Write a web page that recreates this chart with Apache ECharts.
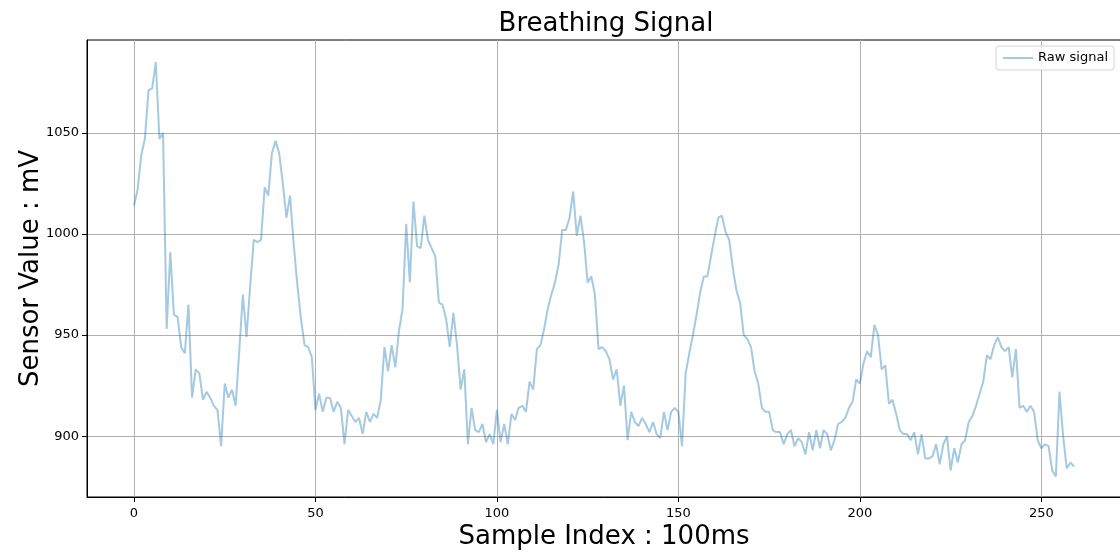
<!DOCTYPE html>
<html>
<head>
<meta charset="utf-8">
<title>Breathing Signal</title>
<script src="https://cdn.jsdelivr.net/npm/echarts@6/dist/echarts.min.js"></script>
<style>
  html, body { margin: 0; padding: 0; background: #fff; }
  #chart { width: 1120px; height: 552px; }
</style>
</head>
<body>
<div id="chart"></div>
<script>
// raw sensor readings (mV), one every 100ms
const rawSignal = [
  1014, 1022, 1039, 1047, 1071, 1072, 1085, 1047, 1050, 953, 991, 960, 959, 944, 941, 965, 919, 933, 931, 918,
  922, 919, 915, 913, 895, 926, 919, 923, 915, 942, 970, 949, 974, 997, 996, 997, 1023, 1019, 1040, 1046,
  1040, 1025, 1008, 1019, 995, 975, 958, 945, 944, 939, 913, 921, 912, 919, 919, 912, 917, 914, 896, 913,
  910, 907, 909, 901, 912, 907, 911, 909, 918, 944, 932, 945, 934, 952, 963, 1005, 976, 1016, 994, 993,
  1009, 997, 993, 989, 966, 965, 958, 944, 961, 945, 923, 933, 896, 914, 903, 902, 906, 897, 901, 896,
  913, 897, 906, 896, 911, 908, 914, 915, 912, 927, 923, 943, 945, 953, 963, 970, 976, 985, 1002, 1002,
  1008, 1021, 999, 1009, 996, 976, 979, 970, 943, 944, 942, 938, 928, 933, 915, 925, 898, 912, 907, 905,
  909, 906, 902, 907, 901, 899, 912, 903, 912, 914, 912, 895, 931, 941, 950, 960, 971, 979, 979, 989,
  999, 1008, 1009, 1001, 997, 983, 972, 966, 950, 948, 944, 932, 926, 914, 912, 912, 903, 902, 902, 896,
  901, 903, 895, 899, 897, 891, 902, 893, 903, 894, 903, 901, 893, 898, 906, 907, 909, 914, 917, 928,
  926, 936, 942, 939, 955, 950, 933, 935, 916, 918, 911, 903, 901, 901, 898, 902, 891, 901, 889, 889,
  890, 896, 886, 896, 900, 883, 894, 887, 896, 898, 907, 910, 915, 921, 927, 940, 938, 945, 949, 944,
  942, 944, 929, 943, 914, 915, 912, 915, 912, 898, 894, 896, 895, 883, 880, 922, 900, 884, 887, 885
];

// tick labels
const xTicks = [0, 50, 100, 150, 200, 250];
const yTicks = [900, 950, 1000, 1050];

const FONT = "DejaVu Sans";
const lineColor = "rgba(31,119,180,0.4)";

const chart = echarts.init(document.getElementById("chart"), null, { renderer: "canvas" });

const seriesData = rawSignal.map((v, i) => [i, v]);

const option = {
  backgroundColor: "#fff",
  animation: false,
  title: {
    text: "Breathing Signal",
    left: 601,
    textAlign: "center",
    top: 6,
    textStyle: { fontFamily: FONT, fontSize: 26, fontWeight: "normal", color: "#000" }
  },
  legend: {
    right: 6,
    top: 46,
    padding: [5, 6, 5, 7],
    itemWidth: 30,
    itemHeight: 2,
    borderColor: "#d4d4d4",
    borderWidth: 1,
    borderRadius: 3,
    backgroundColor: "rgba(255,255,255,0.8)",
    textStyle: { fontFamily: FONT, fontSize: 13, color: "#000", lineHeight: 14 },
    data: [{ name: "Raw signal", icon: "rect", itemStyle: { color: lineColor } }]
  },
  grid: {
    left: 87,
    top: 40,
    width: 1034,
    bottom: 55,
    show: true,
    borderColor: "#000",
    borderWidth: 1,
    containLabel: false,
    outerBoundsMode: "none"
  },
  xAxis: {
    type: "value",
    min: -12.95,
    max: 271.95,
    name: "Sample Index : 100ms",
    nameLocation: "middle",
    nameGap: 27,
    nameMoveOverlap: false,
    nameTextStyle: { fontFamily: FONT, fontSize: 26, color: "#000" },
    axisLine: { show: true, onZero: false, lineStyle: { color: "#000", width: 1 } },
    axisTick: { show: true, inside: false, length: 5, customValues: xTicks, lineStyle: { color: "#000" } },
    axisLabel: { customValues: xTicks, fontFamily: FONT, fontSize: 13, color: "#000", margin: 10 },
    splitLine: { show: true, lineStyle: { color: "#b0b0b0", width: 1 } }
  },
  yAxis: {
    type: "value",
    min: 869.9,
    max: 1095.9,
    name: "Sensor Value : mV",
    nameLocation: "middle",
    nameRotate: 90,
    nameGap: 43,
    nameMoveOverlap: false,
    nameTextStyle: { fontFamily: FONT, fontSize: 26, color: "#000" },
    axisLine: { show: true, onZero: false, lineStyle: { color: "#000", width: 1 } },
    axisTick: { show: true, inside: false, length: 5, customValues: yTicks, lineStyle: { color: "#000" } },
    axisLabel: {
      customValues: yTicks,
      formatter: (v) => String(v),
      fontFamily: FONT,
      fontSize: 13,
      color: "#000",
      margin: 8
    },
    splitLine: { show: true, lineStyle: { color: "#b0b0b0", width: 1 } }
  },
  series: [
    {
      name: "Raw signal",
      type: "line",
      data: seriesData,
      symbol: "none",
      lineStyle: { color: lineColor, width: 2 },
      itemStyle: { color: lineColor }
    }
  ]
};

option && chart.setOption(option);
</script>
</body>
</html>
